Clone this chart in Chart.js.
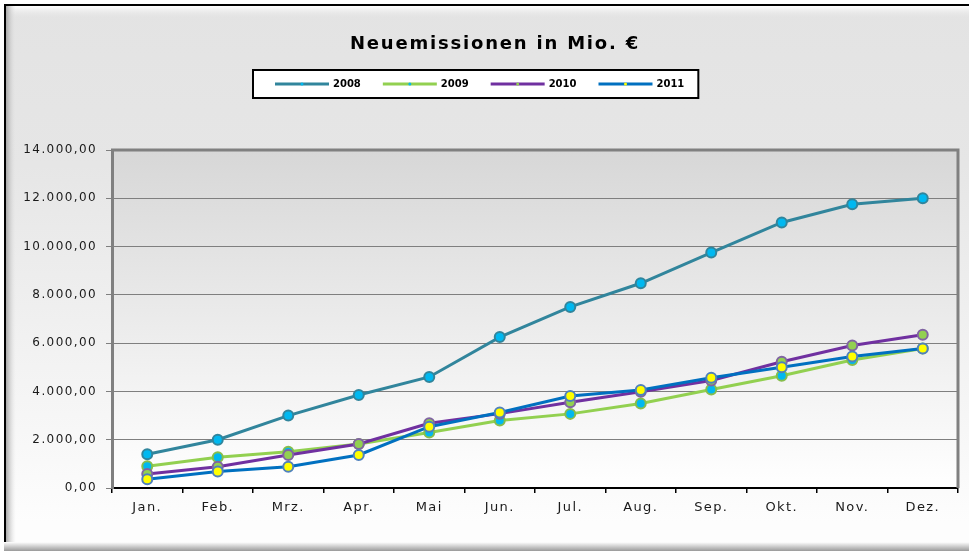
<!DOCTYPE html>
<html>
<head>
<meta charset="utf-8">
<script src="https://cdn.jsdelivr.net/npm/chart.js@4/dist/chart.umd.min.js"></script>
<style>
  html, body { margin: 0; padding: 0; background: #fff; }
  canvas { display: block; }
</style>
</head>
<body>
<canvas id="chart" width="979" height="551"></canvas>
<script>
// data
const chartTitle = 'Neuemissionen in Mio. €';
const months = ['Jan.', 'Feb.', 'Mrz.', 'Apr.', 'Mai', 'Jun.', 'Jul.', 'Aug.', 'Sep.', 'Okt.', 'Nov.', 'Dez.'];
const seriesNames = ['2008', '2009', '2010', '2011'];
const values2008 = [1400, 2000, 3000, 3850, 4600, 6250, 7500, 8480, 9750, 11000, 11750, 12000];
const values2009 = [900, 1270, 1500, 1820, 2300, 2800, 3070, 3500, 4080, 4650, 5300, 5780];
const values2010 = [580, 880, 1370, 1820, 2680, 3080, 3550, 3990, 4450, 5230, 5900, 6350];
const values2011 = [360, 680, 880, 1370, 2540, 3130, 3810, 4060, 4570, 5000, 5450, 5780];
const yTicks = [0, 2000, 4000, 6000, 8000, 10000, 12000, 14000];

// colours: line, marker fill, marker border
const lineColors = ['#31859c', '#92d050', '#7030a0', '#0070c0'];
const markerFills = ['#00b8f0', '#00b8f0', '#92d050', '#ffff00'];
const markerBorders = ['#31859c', '#86bd4c', '#8064a2', '#4f81bd'];

Chart.defaults.font.family = '"DejaVu Sans", Verdana, sans-serif';
Chart.defaults.color = '#1a1a1a';

/**
 * German number format, e.g. 14.000,00
 */
const formatDe = (v) => {
  const parts = Number(v).toFixed(2).split('.');
  return parts[0].replace(/\B(?=(\d{3})+(?!\d))/g, '.') + ',' + parts[1];
};

const frameBackground = {
  id: 'frameBackground',
  beforeDraw(chart) {
    const {ctx, width, height, chartArea: a} = chart;
    ctx.save();

    // whole frame
    let g = ctx.createLinearGradient(0, 0, 0, height);
    g.addColorStop(0, '#e3e3e3');
    g.addColorStop(0.3, '#e6e6e6');
    g.addColorStop(0.95, '#fdfdfd');
    ctx.fillStyle = g;
    ctx.fillRect(0, 0, width, height);

    ctx.fillStyle = '#ffffff';
    ctx.fillRect(0, 0, width, 4);
    ctx.fillRect(0, 0, 4, height);
    ctx.fillRect(969, 0, width - 969, height);

    // bevel top / left / bottom
    g = ctx.createLinearGradient(0, 6, 0, 18);
    g.addColorStop(0, '#ffffff');
    g.addColorStop(1, 'rgba(230,230,230,0)');
    ctx.fillStyle = g;
    ctx.fillRect(6, 6, 963, 12);

    g = ctx.createLinearGradient(6, 0, 16, 0);
    g.addColorStop(0, '#a8a8a8');
    g.addColorStop(1, 'rgba(230,230,230,0)');
    ctx.fillStyle = g;
    ctx.fillRect(6, 6, 10, 537);

    g = ctx.createLinearGradient(0, 542, 0, height);
    g.addColorStop(0, '#ffffff');
    g.addColorStop(1, '#9a9a9a');
    ctx.fillStyle = g;
    ctx.fillRect(4, 542, 965, height - 542);

    ctx.fillStyle = '#000000';
    ctx.fillRect(4, 4, 965, 2);
    ctx.fillRect(4, 4, 2, 538);

    // plot area
    g = ctx.createLinearGradient(0, a.top, 0, a.bottom);
    g.addColorStop(0, '#d7d7d7');
    g.addColorStop(1, '#ffffff');
    ctx.fillStyle = g;
    ctx.fillRect(a.left, a.top, a.right - a.left, a.bottom - a.top);
    ctx.restore();

    // the reference text is a bit spaced out
    ctx.letterSpacing = '1.4px';
  },
  afterDraw(chart) {
    const {ctx, chartArea: a} = chart;
    ctx.save();
    ctx.strokeStyle = '#808080';
    ctx.lineWidth = 3;
    ctx.beginPath();
    ctx.moveTo(a.left - 1, a.top);
    ctx.lineTo(a.right, a.top);
    ctx.lineTo(a.right, a.bottom);
    ctx.stroke();

    // title
    ctx.letterSpacing = '1.8px';
    ctx.font = 'bold 18px "DejaVu Sans"';
    ctx.textAlign = 'center';
    ctx.textBaseline = 'middle';
    ctx.fillStyle = '#000000';
    ctx.fillText(chartTitle, 495, 44);

    // legend box
    ctx.letterSpacing = '0px';
    ctx.textAlign = 'left';
    ctx.font = 'bold 10px "DejaVu Sans"';
    const boxLeft = 253, boxTop = 70, boxH = 28;
    let x = boxLeft + 22;
    const y = boxTop + boxH / 2;
    const items = seriesNames.map((name) => ctx.measureText(name).width);
    const boxW = items.reduce((s, w) => s + 54 + 4 + w, 0) + 22 * 3 + 22 + 14;

    ctx.fillStyle = '#ffffff';
    ctx.fillRect(boxLeft, boxTop, boxW, boxH);
    ctx.strokeStyle = '#000000';
    ctx.lineWidth = 2;
    ctx.strokeRect(boxLeft, boxTop, boxW, boxH);

    seriesNames.forEach((name, i) => {
      ctx.strokeStyle = lineColors[i];
      ctx.lineWidth = 3;
      ctx.beginPath();
      ctx.moveTo(x, y);
      ctx.lineTo(x + 54, y);
      ctx.stroke();
      ctx.fillStyle = markerFills[i];
      ctx.beginPath();
      ctx.arc(x + 27, y, 1.5, 0, Math.PI * 2);
      ctx.fill();
      ctx.fillStyle = '#000000';
      ctx.fillText(name, x + 58, y);
      x += 54 + 4 + items[i] + 22;
    });
    ctx.restore();
  }
};

const allValues = [values2008, values2009, values2010, values2011];

new Chart(document.getElementById('chart'), {
  type: 'line',
  data: {
    labels: months,
    datasets: allValues.map((vals, i) => ({
      label: seriesNames[i],
      data: vals,
      borderColor: lineColors[i],
      backgroundColor: lineColors[i],
      borderWidth: 3,
      tension: 0,
      pointRadius: 5,
      pointBorderWidth: 2,
      pointBackgroundColor: markerFills[i],
      pointBorderColor: markerBorders[i],
      order: 4 - i
    }))
  },
  options: {
    responsive: false,
    devicePixelRatio: 1,
    animation: false,
    layout: { padding: { left: 12, right: 21, top: 150, bottom: 0 } },
    plugins: {
      legend: { display: false },
      tooltip: { enabled: false },
      title: { display: false }
    },
    scales: {
      x: {
        offset: true,
        grid: {
          offset: true,
          drawOnChartArea: false,
          drawTicks: true,
          tickLength: 5,
          color: '#000000',
          lineWidth: 1.5
        },
        border: { display: true, color: '#000000', width: 2 },
        ticks: { padding: 7, font: { size: 13 }, color: '#1a1a1a', maxRotation: 0 },
        afterFit: (scale) => { scale.height = 63; }
      },
      y: {
        min: yTicks[0],
        max: yTicks[yTicks.length - 1],
        afterBuildTicks: (scale) => { scale.ticks = yTicks.map((v) => ({ value: v })); },
        grid: { color: '#7f7f7f', lineWidth: 1, tickLength: 6 },
        border: { display: true, color: '#808080', width: 3 },
        ticks: {
          padding: 9,
          font: { size: 12 },
          color: '#1a1a1a',
          callback: (v) => formatDe(v)
        },
        afterFit: (scale) => { scale.width = 100; }
      }
    }
  },
  plugins: [frameBackground]
});
</script>
</body>
</html>
